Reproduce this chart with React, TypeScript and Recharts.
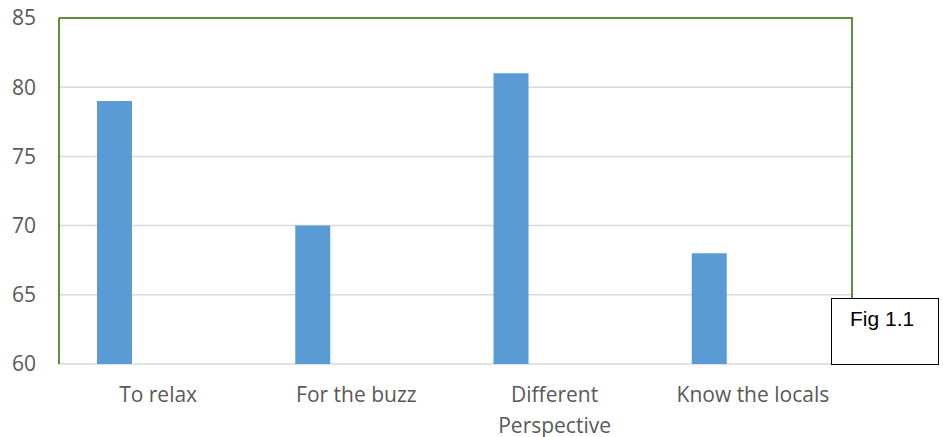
import { Bar, BarChart, CartesianGrid, XAxis, YAxis, ReferenceLine } from 'recharts';

const categories = ['To relax', 'For the buzz', 'Different Perspective', 'Know the locals'];
const values = [79, 70, 81, 68];
const yTicks = [60, 65, 70, 75, 80, 85];

const data = categories.map((name, i) => ({ name, value: values[i], blank: 0 }));

const TEXT = '#595959';
const FONT = '"Open Sans", sans-serif';

const CatTick = (props: any) => {
    const { x, y, payload } = props;
    const label: string = payload.value;
    let lines = [label];
    if (label.length > 16) {
        const idx = label.indexOf(' ');
        lines = [label.slice(0, idx), label.slice(idx + 1)];
    }
    return (
        <text x={x} y={y} textAnchor="middle" fill={TEXT} fontSize={21} fontFamily={FONT}>
            {lines.map((l, i) => (
                <tspan key={i} x={x} dy={i === 0 ? 30 : 30.5}>{l}</tspan>
            ))}
        </text>
    );
};

const App = () => {
    return (
        <div style={{ position: 'absolute', left: 0, top: 0, width: 943, height: 437, background: '#fff' }}>
            <BarChart
                width={943}
                height={437}
                data={data}
                margin={{ top: 18, right: 91, left: 0, bottom: 33 }}
                barGap={52}
                barSize={35}
            >
                <CartesianGrid vertical={false} stroke="#d9d9d9" strokeWidth={1.5} />
                <XAxis
                    dataKey="name"
                    height={40}
                    tickLine={false}
                    axisLine={false}
                    tick={<CatTick />}
                    interval={0}
                />
                <YAxis
                    domain={[60, 85]}
                    ticks={yTicks}
                    width={59}
                    tickLine={false}
                    axisLine={{ stroke: '#5e8e3e', strokeWidth: 2 }}
                    tickSize={0}
                    tickMargin={23}
                    allowDataOverflow
                    tick={{ fill: TEXT, fontSize: 21, fontFamily: FONT }}
                />
                <ReferenceLine y={85} stroke="#5e8e3e" strokeWidth={2} />
                <Bar dataKey="value" fill="#5b9bd5" isAnimationActive={false} />
                <Bar dataKey="blank" fill="none" isAnimationActive={false} />
            </BarChart>
            {/* right border of the plot area */}
            <div style={{ position: 'absolute', left: 851, top: 17, width: 2, height: 347, background: '#5e8e3e' }} />
            <div
                style={{
                    position: 'absolute',
                    left: 831,
                    top: 298,
                    width: 108,
                    height: 67,
                    border: '1.5px solid #000',
                    background: '#fff',
                    fontFamily: '"Liberation Sans", Arial, sans-serif',
                    fontSize: 21,
                    color: '#000',
                    boxSizing: 'border-box',
                    paddingLeft: 18,
                    paddingTop: 8,
                }}
            >
                Fig 1.1
            </div>
        </div>
    );
};

export default App;
